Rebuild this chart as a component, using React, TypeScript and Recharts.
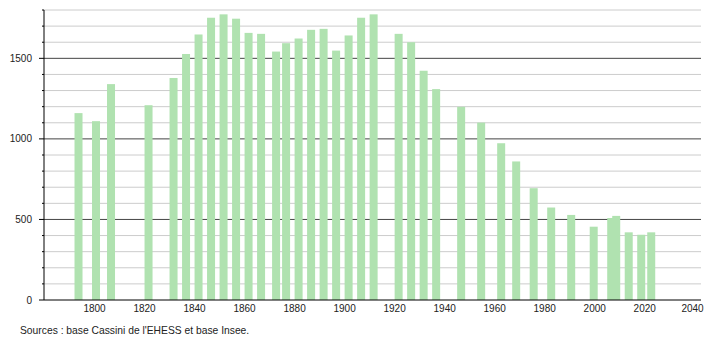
import React from "react";
import { BarChart, Bar, XAxis, YAxis, CartesianGrid } from "recharts";

const years = [1793, 1800, 1806, 1821, 1831, 1836, 1841, 1846, 1851, 1856, 1861, 1866, 1872, 1876, 1881, 1886, 1891, 1896, 1901, 1906, 1911, 1921, 1926, 1931, 1936, 1946, 1954, 1962, 1968, 1975, 1982, 1990, 1999, 2006, 2008, 2013, 2018, 2022];
const population = [1160, 1110, 1340, 1209, 1378, 1527, 1648, 1752, 1773, 1746, 1658, 1652, 1542, 1594, 1623, 1677, 1683, 1548, 1642, 1752, 1773, 1652, 1600, 1423, 1309, 1199, 1101, 973, 860, 694, 574, 528, 455, 509, 522, 420, 405, 420];
const xTicks = [1800, 1820, 1840, 1860, 1880, 1900, 1920, 1940, 1960, 1980, 2000, 2020, 2040];
const yTicks = [0, 100, 200, 300, 400, 500, 600, 700, 800, 900, 1000, 1100, 1200, 1300, 1400, 1500, 1600, 1700, 1800];
const majorValues = [500, 1000, 1500];
const minorValues = [100, 200, 300, 400, 600, 700, 800, 900, 1100, 1200, 1300, 1400, 1600, 1700, 1800];
const sourceText = "Sources : base Cassini de l'EHESS et base Insee.";

const data = years.map((y, i) => ({ year: y, pop: population[i] }));

const FONT = "'Liberation Sans', Arial, sans-serif";
const BAR_W = 8;

const YTick = (props: any) => {
  const { x, y, payload } = props;
  const major = payload.value % 500 === 0;
  return (
    <g>
      <line x1={x - (major ? 5 : 2)} x2={x} y1={y} y2={y} stroke="#000" strokeWidth={1} />
      {major && (
        <text x={x - 12} y={y} dy={3.5} textAnchor="end" fontSize={10} fill="#222" fontFamily={FONT}>
          {payload.value}
        </text>
      )}
    </g>
  );
};

const XTick = (props: any) => {
  const { x, y, payload } = props;
  return (
    <text x={x - 1.5} y={y} dy={8} textAnchor="middle" fontSize={10} fill="#222" fontFamily={FONT}>
      {payload.value}
    </text>
  );
};

const BarShape = (props: any) => {
  const { x, y, width, height, fill } = props;
  const cx = x + width / 2;
  return <rect x={cx - BAR_W / 2} y={y} width={BAR_W} height={height} fill={fill} />;
};

export default function App() {
  return (
    <div style={{ position: "relative", width: 710, height: 340, background: "#fff" }}>
      <style>{"html,body{margin:0;padding:0;overflow:hidden}"}</style>
      <div style={{ position: "absolute", left: 8, top: 8 }}>
        <BarChart
          width={702}
          height={310}
          data={data}
          margin={{ top: 2, right: 9, left: 0, bottom: 0 }}
        >
          <CartesianGrid vertical={false} horizontalValues={minorValues} stroke="#cccccc" strokeWidth={1} />
          <CartesianGrid vertical={false} horizontalValues={majorValues} stroke="#444444" strokeWidth={1} />
          <XAxis
            dataKey="year"
            type="number"
            domain={[1779.2, 2041.9]}
            ticks={xTicks}
            allowDataOverflow
            tickLine={false}
            tickSize={0}
            tickMargin={4}
            height={18}
            axisLine={{ stroke: "#000" }}
            tick={<XTick />}
          />
          <YAxis
            type="number"
            domain={[0, 1800]}
            ticks={yTicks}
            interval={0}
            width={36}
            tickLine={false}
            tickSize={0}
            tickMargin={0}
            axisLine={{ stroke: "#000" }}
            tick={<YTick />}
          />
          <Bar dataKey="pop" fill="#b0e2b0" isAnimationActive={false} shape={<BarShape />} />
        </BarChart>
      </div>
      <div
        style={{
          position: "absolute",
          left: 20,
          top: 325,
          fontFamily: FONT,
          fontSize: 10.3,
          color: "#222",
          whiteSpace: "nowrap",
        }}
      >
        {sourceText}
      </div>
    </div>
  );
}
